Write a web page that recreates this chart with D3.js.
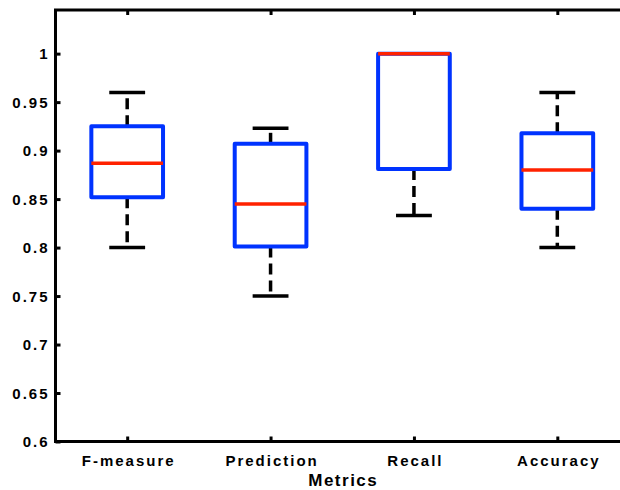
<!DOCTYPE html>
<html>
<head>
<meta charset="utf-8">
<script src="https://cdn.jsdelivr.net/npm/d3@7"></script>
<style>
  body { margin: 0; background: #fff; }
  svg text { font-family: "Liberation Sans", Arial, sans-serif; font-weight: bold; fill: #000; }
</style>
</head>
<body>
<svg id="chart" width="620" height="490"></svg>
<script>
// box stats per metric
const categories = ['F-measure', 'Prediction', 'Recall', 'Accuracy'];
const whiskerLow = [0.800, 0.750, 0.833, 0.800];
const q1 = [0.852, 0.801, 0.881, 0.840];
const medians = [0.887, 0.845, 1.000, 0.880];
const q3 = [0.925, 0.907, 1.000, 0.918];
const whiskerHigh = [0.960, 0.923, 1.000, 0.960];
const yTicks = [0.6, 0.65, 0.7, 0.75, 0.8, 0.85, 0.9, 0.95, 1];

const PLOT = {left: 55.5, right: 629, top: 10, bottom: 441.5};
const svg = d3.select('#chart');

const x = d3.scaleLinear().domain([0.5, 4.5]).range([PLOT.left, PLOT.right]);
const y = d3.scaleLinear().domain([0.6, 1.045]).range([PLOT.bottom, PLOT.top]);

const boxes = categories.map((name, i) => ({
  name: name,
  pos: i + 1,
  lo: whiskerLow[i],
  q1: q1[i],
  med: medians[i],
  q3: q3[i],
  hi: whiskerHigh[i],
}));

const g = svg.append('g');

// whiskers (dashed) and caps
function whisker(b, from, to) {
  g.append('line')
    .attr('x1', x(b.pos)).attr('x2', x(b.pos))
    .attr('y1', y(from)).attr('y2', y(to))
    .attr('stroke', '#000').attr('stroke-width', 3.5)
    .attr('stroke-dasharray', '11,6');
  g.append('line')
    .attr('x1', x(b.pos - 0.125)).attr('x2', x(b.pos + 0.125))
    .attr('y1', y(to)).attr('y2', y(to))
    .attr('stroke', '#000').attr('stroke-width', 3.5);
}
boxes.forEach((b) => {
  if (b.hi > b.q3) whisker(b, b.q3, b.hi);
  whisker(b, b.q1, b.lo);
});

// boxes
g.selectAll('rect.box')
  .data(boxes)
  .join('rect')
  .attr('class', 'box')
  .attr('x', (d) => x(d.pos - 0.25))
  .attr('width', (d) => x(d.pos + 0.25) - x(d.pos - 0.25))
  .attr('y', (d) => y(d.q3))
  .attr('height', (d) => y(d.q1) - y(d.q3))
  .attr('fill', 'none')
  .attr('stroke', '#0033ff')
  .attr('stroke-width', 4)
  .attr('stroke-linejoin', 'round');

// medians
g.selectAll('line.median')
  .data(boxes)
  .join('line')
  .attr('class', 'median')
  .attr('x1', (d) => x(d.pos - 0.25))
  .attr('x2', (d) => x(d.pos + 0.25))
  .attr('y1', (d) => y(d.med))
  .attr('y2', (d) => y(d.med))
  .attr('stroke', '#ff2200')
  .attr('stroke-width', 3.5);

// frame
svg.append('rect')
  .attr('x', PLOT.left).attr('y', PLOT.top)
  .attr('width', PLOT.right - PLOT.left)
  .attr('height', PLOT.bottom - PLOT.top)
  .attr('fill', 'none').attr('stroke', '#000').attr('stroke-width', 3);

// axes with inward ticks
const yAxis = d3.axisLeft(y).tickValues(yTicks).tickFormat(d3.format('')).tickSizeInner(-5).tickSizeOuter(0);
const yG = svg.append('g').attr('transform', `translate(${PLOT.left},0)`).call(yAxis);
yG.select('.domain').remove();
yG.selectAll('.tick line').attr('stroke-width', 3);
yG.selectAll('.tick text')
  .attr('x', -6)
  .attr('dy', '0.35em')
  .style('font-size', '15px')
  .style('letter-spacing', '2px');

const xAxis = d3.axisBottom(x).tickValues(boxes.map((b) => b.pos))
  .tickFormat((d, i) => categories[i]).tickSizeInner(-5).tickSizeOuter(0);
const xG = svg.append('g').attr('transform', `translate(0,${PLOT.bottom})`).call(xAxis);
xG.select('.domain').remove();
xG.selectAll('.tick line').attr('stroke-width', 3);
xG.selectAll('.tick text')
  .attr('y', 24)
  .attr('dy', 0)
  .attr('dx', 1)
  .style('font-size', '15px')
  .style('letter-spacing', '2px');

// top ticks
const xTop = d3.axisTop(x).tickValues(boxes.map((b) => b.pos)).tickFormat('').tickSizeInner(-5).tickSizeOuter(0);
const xTopG = svg.append('g').attr('transform', `translate(0,${PLOT.top})`).call(xTop);
xTopG.select('.domain').remove();
xTopG.selectAll('.tick line').attr('stroke-width', 3);

// axis title
svg.append('text')
  .attr('x', (PLOT.left + PLOT.right) / 2 + 1)
  .attr('y', 486)
  .attr('text-anchor', 'middle')
  .style('font-size', '17px')
  .style('letter-spacing', '1.5px')
  .text('Metrics');
</script>
</body>
</html>
